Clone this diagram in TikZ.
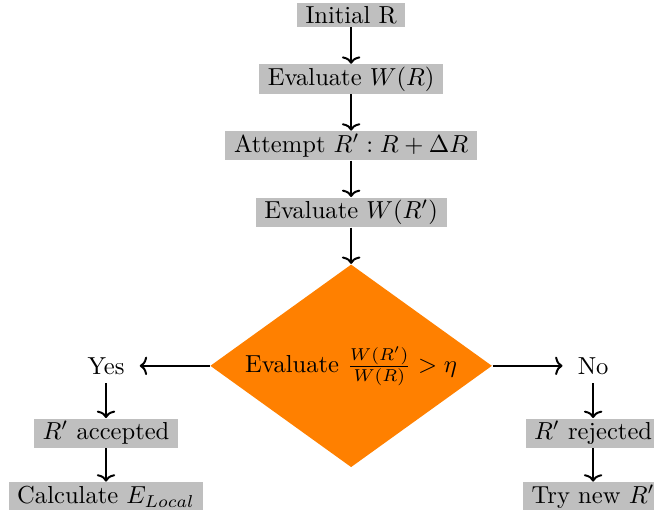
\documentclass[tikz,border=0pt]{standalone}
\usetikzlibrary{positioning,shapes.geometric,arrows.meta}
\begin{document}
\begin{tikzpicture}[node distance=0.52cm,
    box/.style={fill=gray!50, inner xsep=3.5pt, inner ysep=1pt, minimum height=0.415cm},
    answer/.style={inner xsep=6pt},
    arrow/.style={-{To[width=7.5pt,length=3pt]}, line width=0.8pt}
    ]
    \useasboundingbox (-5.02,-2.06) rectangle (4.33,5.23);
    \node[diamond, fill=orange, aspect=1.39, inner sep=0pt, minimum width=4.03cm, minimum height=2.9cm] (test) {Evaluate $\frac{W(R')}{W(R)} > \eta$};
    \node[box, above=of test] (evalnew) {Evaluate $W(R')$};
    \node[box, above=of evalnew] (attempt) {Attempt $R' : R + \Delta R$};
    \node[box, above=of attempt] (evalold) {Evaluate $W(R)$};
    \node[box, above=of evalold, minimum height=0.343cm] (init) {Initial R};
    \node[answer, left=1cm of test] (yes) {Yes};
    \node[answer, right=1cm of test] (no) {No};
    \node[box, below=0.5cm of yes] (accepted) {$R'$ accepted};
    \node[box, below=0.48cm of accepted] (energy) {Calculate $E_{Local}$};
    \node[box, below=0.5cm of no] (rejected) {$R'$ rejected};
    \node[box, below=0.48cm of rejected] (retry) {Try new $R'$};
    \draw[arrow] (init) -- (evalold);
    \draw[arrow] (evalold) -- (attempt);
    \draw[arrow] (attempt) -- (evalnew);
    \draw[arrow] (evalnew) -- (test);
    \draw[arrow] (test) -- (yes);
    \draw[arrow] (test) -- (no);
    \draw[arrow] (yes) -- (accepted);
    \draw[arrow] (accepted) -- (energy);
    \draw[arrow] (no) -- (rejected);
    \draw[arrow] (rejected) -- (retry);
\end{tikzpicture}
\end{document}
